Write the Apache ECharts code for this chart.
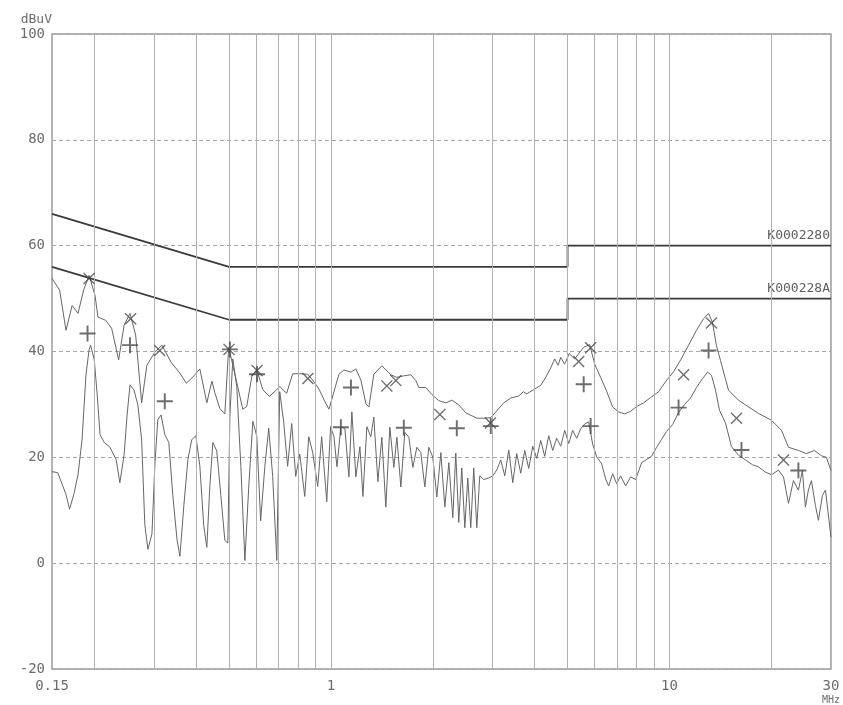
<!DOCTYPE html>
<html>
<head>
<meta charset="utf-8">
<title>Conducted emission</title>
<script src="https://cdn.jsdelivr.net/npm/echarts@6/dist/echarts.min.js"></script>
<style>
  html, body { margin: 0; padding: 0; background: #fff; }
  #chart { width: 843px; height: 705px; }
</style>
</head>
<body>
<div id="chart"></div>
<script>
// frequencies in MHz, levels in dBuV
const qpLimit = [[0.15, 66], [0.5, 56], [5, 56], [5, 60], [30, 60]];
const avLimit = [[0.15, 56], [0.5, 46], [5, 46], [5, 50], [30, 50]];
const limitNames = ['K0002280', 'K000228A'];

const gridMHz = [0.2, 0.3, 0.4, 0.5, 0.6, 0.7, 0.8, 0.9, 1, 2, 3, 4, 5, 6, 7, 8, 9, 10, 20];

const peakTrace = [
  [0.150,53.8],[0.158,51.6],[0.165,44.0],[0.172,48.7],[0.179,47.2],[0.186,51.6],[0.193,54.4],
  [0.201,50.6],[0.205,46.5],[0.216,45.9],[0.225,44.4],[0.236,38.4],[0.245,45.0],[0.255,47.2],
  [0.265,43.1],[0.276,30.3],[0.286,37.4],[0.302,39.9],[0.317,41.2],[0.337,38.0],[0.358,35.9],
  [0.374,34.0],[0.394,35.4],[0.410,36.7],[0.430,30.3],[0.445,34.4],[0.454,32.2],[0.470,29.2],
  [0.486,28.2],[0.499,40.8],[0.520,35.8],[0.549,29.1],[0.564,29.6],[0.584,35.3],[0.604,36.6],
  [0.629,32.8],[0.658,31.5],[0.692,32.8],[0.706,33.4],[0.740,32.1],[0.771,35.8],[0.809,35.8],
  [0.854,35.7],[0.883,34.6],[0.922,32.9],[0.967,30.1],[0.987,29.1],[1.056,35.7],[1.092,36.5],
  [1.146,36.1],[1.185,36.7],[1.226,34.6],[1.269,30.1],[1.295,29.5],[1.339,35.7],[1.414,37.3],
  [1.503,35.6],[1.566,35.1],[1.642,35.4],[1.722,35.6],[1.782,34.5],[1.818,33.2],[1.906,33.2],
  [1.986,31.9],[2.083,30.7],[2.185,30.3],[2.276,30.8],[2.386,29.9],[2.503,28.4],[2.697,27.4],
  [2.828,27.4],[2.966,27.5],[3.089,28.8],[3.240,30.3],[3.398,31.2],[3.588,31.6],[3.700,32.4],
  [3.788,32.0],[3.973,32.8],[4.166,33.6],[4.300,35.0],[4.460,36.9],[4.582,38.6],[4.690,37.4],
  [4.773,38.9],[4.900,37.6],[5.060,39.6],[5.249,38.6],[5.581,40.8],[5.813,41.3],[6.014,37.6],
  [6.263,35.1],[6.524,32.5],[6.796,29.5],[7.079,28.6],[7.373,28.2],[7.680,28.7],[8.000,29.6],
  [8.389,30.3],[8.798,31.3],[9.290,32.4],[9.742,34.3],[10.29,36.2],[10.79,38.4],[11.39,41.2],
  [12.02,44.0],[12.61,46.2],[13.05,47.2],[13.40,45.5],[13.77,41.1],[14.15,38.3],[14.94,32.7],
  [15.99,30.8],[16.77,29.9],[18.32,28.3],[20.02,27.0],[21.43,25.1],[22.47,21.9],[24.04,21.3],
  [25.38,20.7],[26.81,21.3],[28.11,20.3],[29.08,20.0],[30.0,17.5]
];

const avgTrace = [
  [0.150,17.3],[0.156,17.1],[0.165,13.0],[0.169,10.2],[0.174,13.0],[0.179,16.7],[0.184,23.3],
  [0.189,35.6],[0.193,40.3],[0.195,41.2],[0.200,38.4],[0.204,31.8],[0.208,24.3],[0.214,22.8],
  [0.222,22.0],[0.232,19.6],[0.238,15.2],[0.245,20.5],[0.250,28.0],[0.255,33.7],[0.262,32.7],
  [0.269,29.9],[0.276,23.3],[0.282,7.3],[0.288,2.6],[0.296,5.5],[0.302,18.6],[0.308,27.1],
  [0.315,28.0],[0.323,24.3],[0.332,22.8],[0.341,13.0],[0.351,4.5],[0.358,1.3],[0.368,11.1],
  [0.378,19.6],[0.388,23.3],[0.399,24.1],[0.410,18.4],[0.421,7.1],[0.430,3.0],[0.439,14.7],
  [0.448,22.8],[0.460,21.2],[0.473,12.8],[0.486,4.3],[0.496,3.8],[0.503,27.8],[0.513,38.6],
  [0.527,33.4],[0.542,18.3],[0.557,0.5],[0.572,14.6],[0.588,26.8],[0.604,24.0],[0.620,8.0],
  [0.638,18.3],[0.655,25.5],[0.673,16.4],[0.692,0.5],[0.706,32.4],[0.725,26.8],[0.745,18.3],
  [0.766,26.4],[0.787,16.4],[0.809,20.6],[0.837,12.6],[0.860,23.9],[0.883,21.0],[0.914,14.5],
  [0.939,23.9],[0.972,11.6],[0.998,25.8],[1.021,23.9],[1.042,18.2],[1.070,25.8],[1.100,25.4],
  [1.130,16.3],[1.153,28.6],[1.185,16.3],[1.218,22.0],[1.243,12.6],[1.277,25.8],[1.312,23.9],
  [1.339,27.6],[1.376,15.4],[1.414,23.8],[1.453,10.6],[1.493,25.7],[1.534,18.1],[1.566,23.8],
  [1.609,14.4],[1.653,24.7],[1.699,23.8],[1.746,18.1],[1.794,21.9],[1.843,20.9],[1.894,14.4],
  [1.946,21.9],[2.000,20.0],[2.055,12.5],[2.112,20.9],[2.170,10.6],[2.230,19.0],[2.291,8.6],
  [2.338,20.8],[2.386,7.7],[2.435,18.0],[2.486,6.7],[2.537,16.1],[2.589,6.7],[2.642,18.0],
  [2.697,6.7],[2.752,16.5],[2.828,15.8],[2.926,16.1],[3.007,16.5],[3.089,17.6],[3.175,19.5],
  [3.263,16.5],[3.352,21.4],[3.445,15.2],[3.539,20.7],[3.637,17.0],[3.737,21.3],[3.840,17.9],
  [3.946,22.1],[4.055,19.8],[4.166,23.2],[4.281,20.2],[4.399,24.1],[4.520,21.3],[4.644,23.6],
  [4.773,22.1],[4.905,25.1],[5.040,22.6],[5.178,25.1],[5.321,23.6],[5.468,25.4],[5.619,26.3],
  [5.774,26.7],[5.932,22.5],[6.096,20.1],[6.306,18.8],[6.480,15.9],[6.613,14.6],[6.796,16.9],
  [6.983,15.0],[7.175,16.5],[7.423,14.6],[7.680,16.3],[7.946,15.8],[8.276,19.0],[8.562,19.6],
  [8.858,20.2],[9.164,21.9],[9.480,23.4],[9.808,24.9],[10.22,26.2],[10.64,28.5],[11.09,30.0],
  [11.54,31.2],[12.02,33.2],[12.53,34.9],[12.96,36.1],[13.31,35.5],[13.68,32.7],[14.05,28.9],
  [14.64,26.5],[15.25,22.0],[16.00,20.4],[16.77,19.5],[17.59,18.6],[18.32,18.2],[19.21,17.2],
  [20.02,16.7],[20.99,17.6],[21.72,16.3],[22.47,11.3],[23.24,15.6],[24.04,13.8],[24.70,17.5],
  [25.21,10.6],[25.73,13.8],[26.27,15.6],[26.99,10.9],[27.55,8.1],[28.30,12.8],[28.89,13.8],
  [29.48,9.1],[30.0,4.9]
];

// final measurement points
const qpMarks = [
  [0.193,53.8],[0.256,46.2],[0.312,40.2],[0.500,40.4],[0.605,36.4],[0.855,34.9],[1.463,33.5],
  [1.556,34.5],[2.098,28.1],[2.960,26.5],[5.394,38.1],[5.852,40.7],[11.01,35.6],[13.31,45.4],
  [15.78,27.4],[21.72,19.5]
];
const avMarks = [
  [0.191,43.4],[0.255,41.2],[0.323,30.6],[0.503,40.4],[0.605,35.7],[1.070,25.7],[1.146,33.2],
  [1.642,25.6],[2.354,25.5],[2.966,25.9],[5.581,33.8],[5.852,25.9],[10.64,29.4],[13.05,40.2],
  [16.32,21.4],[24.04,17.5]
];

const yTicks = { min: -20, max: 100, step: 20 };

const plusPath = 'path://M0,44L100,44L100,56L0,56ZM44,0L56,0L56,100L44,100Z';
const crossPath = 'path://M8,0L50,42L92,0L100,8L58,50L100,92L92,100L50,58L8,100L0,92L42,50L0,8Z';

const mono = 'DejaVu Sans Mono';
const inkText = '#6c6c6c';
const inkTrace = '#666666';

function limitSeries(pts, name) {
  return {
    type: 'line', data: pts, symbol: 'none', z: 4,
    lineStyle: { color: '#3a3a3a', width: 1.8 },
    endLabel: {
      show: true, formatter: name, distance: 0, offset: [-1, -10],
      align: 'right', verticalAlign: 'middle',
      fontFamily: mono, fontSize: 13, color: '#5e5e5e'
    }
  };
}

const chart = echarts.init(document.getElementById('chart'), null, { renderer: 'canvas' });

chart.setOption({
  animation: false,
  backgroundColor: '#fff',
  grid: {
    left: 52, right: 11, top: 34, bottom: 33,
    show: true, borderColor: '#9a9a9a', borderWidth: 1.5, backgroundColor: 'transparent'
  },
  xAxis: {
    type: 'log', logBase: 10, min: 0.15, max: 30,
    axisLine: { show: false },
    axisTick: { show: false },
    splitLine: { show: false },
    axisLabel: {
      margin: 10, fontFamily: mono, fontSize: 14, color: inkText,
      showMinLabel: true, showMaxLabel: true,
      formatter: function (v) {
        const n = Number(Number(v).toPrecision(3));
        if (n === 30) return '30\n{u|MHz}';
        return String(n);
      },
      rich: { u: { fontFamily: mono, fontSize: 10, color: inkText, padding: [2, 0, 0, 0] } }
    }
  },
  yAxis: {
    type: 'value', min: yTicks.min, max: yTicks.max, interval: yTicks.step,
    name: 'dBuV', nameLocation: 'end', nameGap: 8,
    nameTextStyle: { fontFamily: mono, fontSize: 13, color: inkText, align: 'right', verticalAlign: 'bottom' },
    axisLine: { show: false },
    axisTick: { show: false },
    splitLine: { show: true, lineStyle: { color: '#a8a8a8', type: [4, 3], width: 1 } },
    axisLabel: { margin: 7, fontFamily: mono, fontSize: 14, color: inkText }
  },
  series: [
    {
      type: 'line', data: [], symbol: 'none', z: 1, silent: true,
      markLine: {
        silent: true, symbol: 'none', animation: false,
        label: { show: false },
        lineStyle: { color: '#b0b0b0', type: 'solid', width: 1 },
        data: gridMHz.map(function (f) { return { xAxis: f }; })
      }
    },
    limitSeries(qpLimit, limitNames[0]),
    limitSeries(avLimit, limitNames[1]),
    {
      type: 'line', data: peakTrace, symbol: 'none', z: 3,
      lineStyle: { color: inkTrace, width: 1 }
    },
    {
      type: 'line', data: avgTrace, symbol: 'none', z: 3,
      lineStyle: { color: inkTrace, width: 1 }
    },
    {
      type: 'scatter', data: qpMarks, symbol: crossPath, symbolSize: 12, z: 5,
      itemStyle: { color: '#484848' }
    },
    {
      type: 'scatter', data: avMarks, symbol: plusPath, symbolSize: 16, z: 5,
      itemStyle: { color: '#484848' }
    }
  ]
});
</script>
</body>
</html>
